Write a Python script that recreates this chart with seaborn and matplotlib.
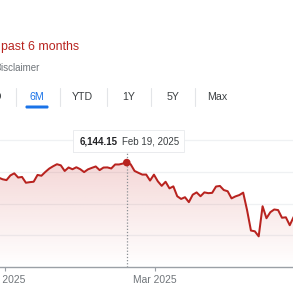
import numpy as np
import pandas as pd
import matplotlib
matplotlib.use("Agg")
import matplotlib.pyplot as plt
from matplotlib.patches import FancyBboxPatch, PathPatch
from matplotlib.lines import Line2D
import seaborn as sns

# ---------------- data ----------------
dates = [
    "2024-12-27", "2024-12-30", "2024-12-31",
    "2025-01-02", "2025-01-03", "2025-01-06", "2025-01-07", "2025-01-08", "2025-01-10",
    "2025-01-13", "2025-01-14", "2025-01-15", "2025-01-16", "2025-01-17", "2025-01-21",
    "2025-01-22", "2025-01-23", "2025-01-24", "2025-01-27", "2025-01-28", "2025-01-29",
    "2025-01-30", "2025-01-31",
    "2025-02-03", "2025-02-04", "2025-02-05", "2025-02-06", "2025-02-07", "2025-02-10",
    "2025-02-11", "2025-02-12", "2025-02-13", "2025-02-14", "2025-02-18", "2025-02-19",
    "2025-02-20", "2025-02-21", "2025-02-24", "2025-02-25", "2025-02-26", "2025-02-27",
    "2025-02-28",
    "2025-03-03", "2025-03-04", "2025-03-05", "2025-03-06", "2025-03-07", "2025-03-10",
    "2025-03-11", "2025-03-12", "2025-03-13", "2025-03-14", "2025-03-17", "2025-03-18",
    "2025-03-19", "2025-03-20", "2025-03-21", "2025-03-24", "2025-03-25", "2025-03-26",
    "2025-03-27", "2025-03-28", "2025-03-31",
    "2025-04-01", "2025-04-02", "2025-04-03", "2025-04-04", "2025-04-07", "2025-04-08",
    "2025-04-09", "2025-04-10", "2025-04-11", "2025-04-14", "2025-04-15", "2025-04-16",
    "2025-04-17", "2025-04-21", "2025-04-22", "2025-04-23",
]
closes = [
    5970.84, 5906.94, 5881.63,
    5868.55, 5942.47, 5975.38, 5909.03, 5918.25, 5827.04,
    5836.22, 5842.91, 5949.91, 5937.34, 5996.66, 6049.24,
    6086.37, 6118.71, 6101.24, 6012.28, 6067.70, 6039.31,
    6071.17, 6040.53,
    5994.57, 6037.88, 6061.48, 6083.57, 6025.99, 6066.44,
    6068.50, 6051.97, 6115.07, 6114.63, 6129.58, 6144.15,
    6117.52, 6013.13, 5983.25, 5955.25, 5956.06, 5861.57,
    5954.50,
    5849.72, 5778.15, 5842.63, 5738.52, 5770.20, 5614.56,
    5572.07, 5599.30, 5521.52, 5638.94, 5675.12, 5614.66,
    5675.29, 5662.89, 5667.56, 5767.57, 5776.65, 5712.20,
    5693.31, 5580.94, 5611.85,
    5633.07, 5670.97, 5396.52, 5074.08, 5062.25, 4982.77,
    5456.90, 5268.05, 5363.36, 5405.97, 5396.63, 5275.70,
    5282.70, 5158.20, 5287.76, 5375.86,
]
tick_dates = ["2025-01-01", "2025-03-01"]
tick_labels = ["Jan 2025", "Mar 2025"]
grid_values = [4500, 5000, 5500, 6000, 6500]
highlight_date = "2025-02-19"
highlight_label = "6,144.15"
highlight_date_label = "Feb 19, 2025"
range_buttons = ["5D", "6M", "YTD", "1Y", "5Y", "Max"]
title_text = "past 6 months"
disclaimer_text = "Disclaimer"

# ---------------- styling ----------------
sns.set_style("white")
plt.rcParams["font.family"] = ["Liberation Sans", "DejaVu Sans"]

RED = "#b8231f"
GRAY_TXT = "#70757a"
DARK_TXT = "#3c4043"
BLUE = "#1a73e8"

W = H = 293
fig = plt.figure(figsize=(W / 100, H / 100), dpi=100)
fig.patch.set_facecolor("white")


def fx(x):
    return x / W


def fy(y):
    return 1 - y / H


def pt(px):
    return px * 0.72


# trading-day index as x (Jan 2 = 0)
dt = pd.to_datetime(dates)
idx = np.arange(len(dates)) - dates.index("2025-01-02")
df = pd.DataFrame({"idx": idx, "close": closes})

ax_top_px, ax_bot_px = 115, 267
ax = fig.add_axes([0, fy(ax_bot_px), 1, (ax_bot_px - ax_top_px) / H])
ax.set_facecolor("white")

ymin = 4500
units_per_px = 15.75
ymax = ymin + (ax_bot_px - ax_top_px) * units_per_px
px_per_day = 3.88
x0_px = 6.5
xl = (-x0_px / px_per_day, (W - x0_px) / px_per_day)

# gridlines
for g in grid_values[1:]:
    ax.axhline(g, color="#eff1f3", lw=0.9, zorder=0)

# gradient fill under the line
poly = ax.fill_between(df["idx"], df["close"], ymin, color="none", lw=0)
path = poly.get_paths()[0]
clip = PathPatch(path, transform=ax.transData, facecolor="none", edgecolor="none")
ax.add_patch(clip)
top_v = 6150
nrows = 256
vals = np.linspace(ymin, top_v, nrows)
alpha = np.clip(0.18 * (vals - ymin) / (top_v - ymin), 0, 1)
rgb = matplotlib.colors.to_rgb("#c5221f")
grad = np.zeros((nrows, 2, 4))
grad[..., 0], grad[..., 1], grad[..., 2] = rgb
grad[..., 3] = alpha[:, None]
im = ax.imshow(grad, extent=[xl[0], xl[1], ymin, top_v], origin="lower",
               aspect="auto", zorder=1, interpolation="bilinear")
im.set_clip_path(clip)
ax.set_xlim(xl)
ax.set_ylim(ymin, ymax)

sns.lineplot(data=df, x="idx", y="close", ax=ax, color=RED, lw=1.45, zorder=3)

# highlight
hi = dates.index(highlight_date)
hx, hv = idx[hi], closes[hi]
tip_bottom_px = 152
ax.vlines(hx, ymin, ymin + (ax_bot_px - tip_bottom_px) * units_per_px,
          colors="#8a8f94", linestyles=(0, (1, 1.5)), lw=0.9, zorder=2)
ax.scatter([hx], [hv], s=30, color=RED, zorder=4, edgecolor="none")

# ticks on interpolated month starts
ords = dt.map(pd.Timestamp.toordinal).values.astype(float)
tpos = [np.interp(pd.Timestamp(t).toordinal(), ords, idx) for t in tick_dates]
ax.set_xticks(tpos)
ax.set_xticklabels(tick_labels)
ax.set_yticks([])
ax.set_xlabel("")
ax.set_ylabel("")
ax.set_xlim(xl)
ax.set_ylim(ymin, ymax)
for s in ["top", "left", "right"]:
    ax.spines[s].set_visible(False)
ax.spines["bottom"].set_color("#9aa0a6")
ax.spines["bottom"].set_linewidth(1.0)
ax.tick_params(axis="x", bottom=True, length=3, width=0.8, color="#9aa0a6",
               pad=2.5, labelsize=pt(10.2), labelcolor=GRAY_TXT)

# tooltip
shadow = FancyBboxPatch((fx(73), fy(153.2)), fx(111.5), 22 / H,
                        boxstyle="square,pad=0", transform=fig.transFigure,
                        facecolor=(0, 0, 0, 0.08), edgecolor="none", zorder=5)
fig.add_artist(shadow)
box = FancyBboxPatch((fx(73), fy(152)), fx(111), 22 / H,
                     boxstyle="square,pad=0", transform=fig.transFigure,
                     facecolor="white", edgecolor="#e8eaed", lw=0.6, zorder=6)
fig.add_artist(box)
fig.text(fx(80), fy(142), highlight_label, fontsize=pt(9.8), fontweight="bold",
         color="#202124", va="center", ha="left", zorder=7)
fig.text(fx(121.5), fy(142), highlight_date_label, fontsize=pt(9.8),
         color=DARK_TXT, va="center", ha="left", zorder=7)

# header texts
fig.text(fx(1), fy(47), title_text, fontsize=pt(12.4), color=RED,
         va="center", ha="left")
fig.text(fx(-5.3), fy(68), disclaimer_text, fontsize=pt(9.8), color=GRAY_TXT,
         va="center", ha="left")

# range buttons
btn_x = [-5, 37, 82.5, 129, 173, 217.5]
sep_x = [16, 59.5, 107, 151, 195]
for lab, x in zip(range_buttons, btn_x):
    fig.text(fx(x), fy(97), lab, fontsize=pt(10.6),
             color=BLUE if lab == "6M" else DARK_TXT, va="center", ha="center")
for x in sep_x:
    fig.add_artist(Line2D([fx(x), fx(x)], [fy(88), fy(106)],
                          transform=fig.transFigure, color="#e3e5e8", lw=0.8))
fig.add_artist(FancyBboxPatch((fx(25.5), fy(108.5)), fx(23), 3 / H,
                              boxstyle="round,pad=0,rounding_size=0.004",
                              transform=fig.transFigure, facecolor=BLUE,
                              edgecolor="none"))

fig.savefig("out.png", dpi=100, facecolor="white")
